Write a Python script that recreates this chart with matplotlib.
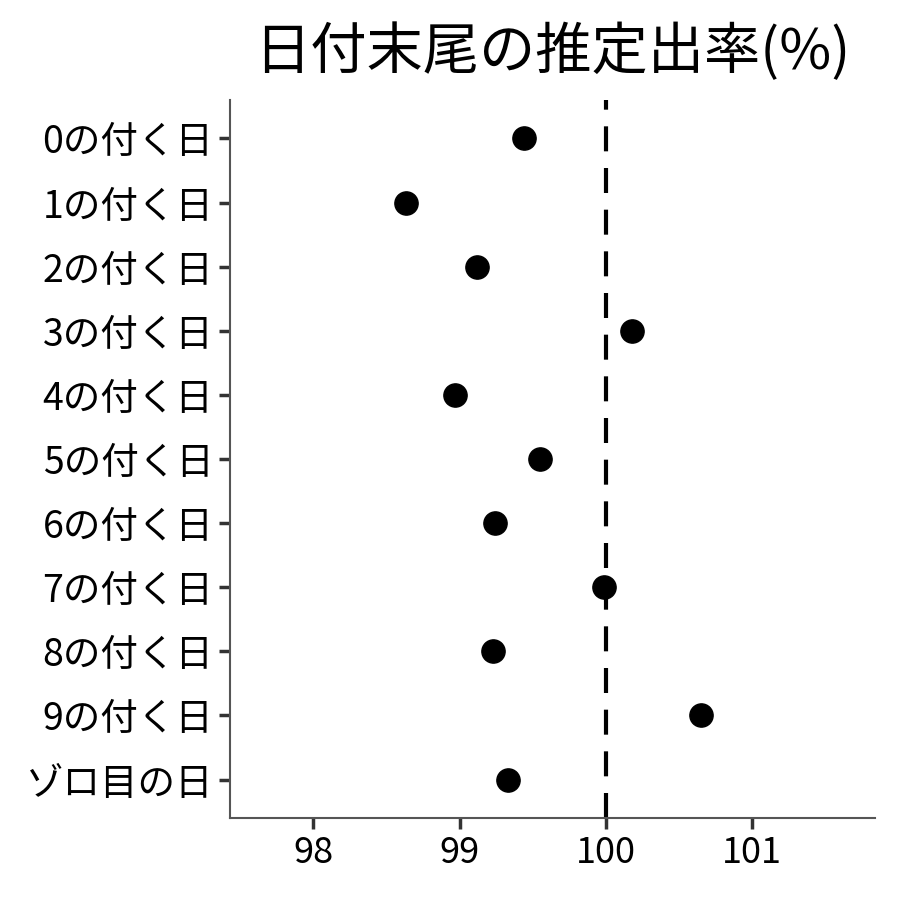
import numpy as np
import matplotlib
matplotlib.use("Agg")
import matplotlib.pyplot as plt

plt.rcParams["font.family"] = ["Noto Sans CJK JP", "DejaVu Sans"]

# ── Data ──────────────────────────────────────────────────────────────────────
labels = ["0の付く日", "1の付く日", "2の付く日", "3の付く日", "4の付く日",
          "5の付く日", "6の付く日", "7の付く日", "8の付く日", "9の付く日",
          "ゾロ目の日"]
rates = [99.44, 98.63, 99.12, 100.18, 98.97, 99.55, 99.24, 99.99, 99.23,
         100.65, 99.33]
x_ticks = [98, 99, 100, 101]

fig = plt.figure(figsize=(9, 9), dpi=100)
ax = fig.add_axes([0.2556, 0.0911, 0.7166, 0.7978])

ypos = np.arange(len(labels))
ax.axvline(100, color="black", linewidth=3, linestyle=(0, (6, 4)), zorder=1)
ax.scatter(rates, ypos, s=280, color="black", zorder=3)

ax.set_yticks(ypos)
ax.set_yticklabels(labels, fontsize=27)
ax.set_ylim(len(labels) - 0.4, -0.6)
ax.set_xticks(x_ticks)
ax.set_xticklabels([str(t) for t in x_ticks], fontsize=26)
ax.set_xlim(97.43, 101.84)

for side in ["top", "right"]:
    ax.spines[side].set_visible(False)
for side in ["left", "bottom"]:
    ax.spines[side].set_color("#555555")
    ax.spines[side].set_linewidth(1.5)
ax.tick_params(length=8, width=2.5, color="#333333", labelcolor="black", pad=4)

ax.set_title("日付末尾の推定出率(%)", fontsize=40.5, pad=22)

plt.savefig("out.png", dpi=100)
plt.close()
